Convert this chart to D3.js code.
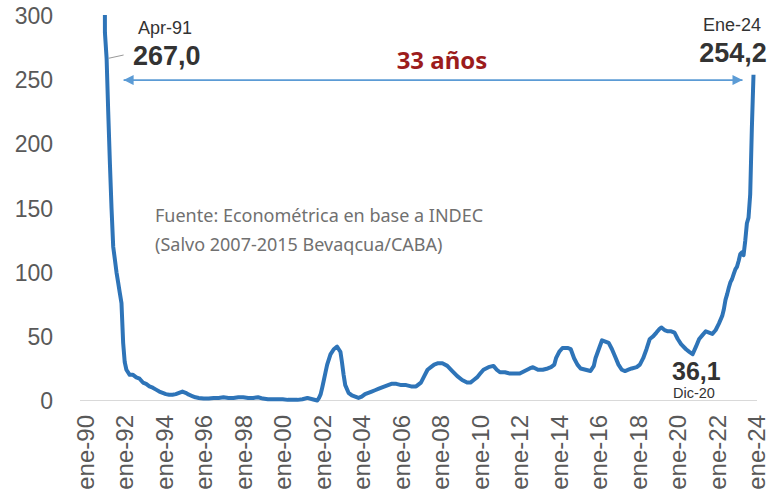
<!DOCTYPE html>
<html lang="es">
<head>
  <meta charset="UTF-8">
  <title>Inflación interanual</title>
  <script src="https://d3js.org/d3.v7.min.js"></script>
  <style>
    body { margin: 0; background: #fff; }
    svg { display: block; }
    .tick-label { font-family: "Liberation Sans", Arial, sans-serif; fill: #595959; }
    .note { font-family: "Noto Sans", "Open Sans", sans-serif; }
    .note-num { font-family: "Liberation Sans", Arial, sans-serif; }
  </style>
</head>
<body>
<svg width="773" height="502"></svg>
<script>
// inflación interanual (%), mensual; valores por encima de 300 quedan recortados
const fechas = [
  "1991-02","1991-03","1991-04","1991-05","1991-06","1991-07","1991-08","1991-09","1991-10","1991-11","1991-12",
  "1992-01","1992-02","1992-03","1992-04","1992-06","1992-08","1992-10","1992-12",
  "1993-02","1993-04","1993-06","1993-08","1993-10","1993-12",
  "1994-02","1994-04","1994-06","1994-08","1994-10","1994-12",
  "1995-02","1995-04","1995-06","1995-08","1995-10","1995-12",
  "1996-03","1996-06","1996-09","1996-12","1997-03","1997-06","1997-09","1997-12",
  "1998-03","1998-06","1998-09","1998-12","1999-03","1999-06","1999-09","1999-12",
  "2000-03","2000-06","2000-09","2000-12","2001-03","2001-06","2001-09","2001-12",
  "2002-01","2002-02","2002-03","2002-04","2002-05","2002-06","2002-08","2002-10","2002-12",
  "2003-01","2003-02","2003-03","2003-04","2003-05","2003-07","2003-09","2003-11",
  "2004-01","2004-03","2004-05","2004-07","2004-09","2004-11",
  "2005-01","2005-03","2005-05","2005-07","2005-09","2005-12",
  "2006-03","2006-06","2006-09","2006-12",
  "2007-03","2007-05","2007-07","2007-09","2007-11",
  "2008-01","2008-04","2008-07","2008-10",
  "2009-01","2009-04","2009-07","2009-09","2009-11",
  "2010-01","2010-03","2010-05","2010-08","2010-11",
  "2011-01","2011-03","2011-06","2011-09","2011-12",
  "2012-03","2012-06","2012-09","2012-11",
  "2013-02","2013-05","2013-08","2013-10","2013-12",
  "2014-01","2014-03","2014-05","2014-08","2014-10","2014-12",
  "2015-02","2015-04","2015-07","2015-10","2015-12",
  "2016-01","2016-03","2016-05","2016-07","2016-09","2016-11",
  "2017-01","2017-03","2017-05","2017-07","2017-09","2017-11",
  "2018-02","2018-04","2018-06","2018-08","2018-10","2018-12",
  "2019-02","2019-04","2019-05","2019-07","2019-09","2019-11",
  "2020-01","2020-03","2020-05","2020-08","2020-10","2020-12",
  "2021-02","2021-04","2021-06","2021-08","2021-10","2021-12",
  "2022-02","2022-04","2022-06","2022-07","2022-08","2022-09","2022-10","2022-11","2022-12",
  "2023-01","2023-02","2023-03","2023-04","2023-05","2023-06","2023-07","2023-08","2023-09","2023-10","2023-11","2023-12",
  "2024-01"
];
const valores = [
  900, 287, 267, 225, 185, 150, 120, 110, 100, 92, 84,
  76, 45, 30, 24, 20, 20, 18, 17,
  14, 13, 11, 10, 8.5, 7,
  6, 5, 4.5, 4.5, 5, 6,
  7, 6, 4.5, 3.5, 2.5, 2,
  1.5, 1.5, 2, 2, 2.5, 2, 2, 2.5,
  2.5, 2, 2, 2.5, 1.5, 1, 1, 1,
  1, 0.5, 0.5, 0.5, 1, 2, 1, 0,
  2, 5, 10, 16, 22, 28, 36, 40, 42,
  40, 38, 30, 20, 12, 6, 4, 3,
  2, 3, 5, 6, 7, 8,
  9, 10, 11, 12, 13, 13,
  12, 12, 11, 11,
  14, 19, 24, 26, 28,
  29, 29, 27, 23,
  19, 16, 14, 14, 16,
  18, 21, 24, 26, 27,
  24, 22, 22, 21, 21,
  21, 23, 25, 26,
  24, 24, 25, 26, 28,
  33, 38, 41, 41, 40, 33,
  28, 25, 24, 23, 27,
  33, 40, 47, 46, 45, 40,
  34, 28, 24, 23, 24, 25,
  26, 28, 33, 40, 48, 50,
  53, 56, 57, 55, 54, 54,
  53, 48, 44, 40, 38, 36.1,
  42, 48, 51, 54, 53, 52,
  55, 60, 66, 71, 78.5, 83, 88, 92.4, 94.8,
  98.8, 102.5, 104.3, 108.8, 114.2, 115.6, 113.4, 124.4, 138.3, 142.7, 160.9, 211.4,
  254.2
];
const yTicks = [0, 50, 100, 150, 200, 250, 300];
const fuente = ["Fuente: Econométrica en base a INDEC", "(Salvo 2007-2015 Bevaqcua/CABA)"];

const parse = d3.timeParse("%Y-%m");
const serie = fechas.map((f, i) => ({ fecha: parse(f), valor: valores[i] }));

const svg = d3.select("svg");
const plotLeft = 80, plotRight = 757, plotTop = 16, plotBottom = 400.5;

const x = d3.scaleTime()
  .domain([parse("1990-01"), parse("2024-01")])
  .range([82, 753.5]);
const y = d3.scaleLinear().domain([0, 300]).range([plotBottom, plotTop]);

const defs = svg.append("defs");
defs.append("clipPath").attr("id", "plot")
  .append("rect").attr("x", plotLeft).attr("y", plotTop - 1)
  .attr("width", plotRight - plotLeft).attr("height", plotBottom - plotTop + 6);

defs.append("marker")
  .attr("id", "head")
  .attr("viewBox", "0 0 10 10").attr("refX", 10).attr("refY", 5)
  .attr("markerWidth", 14).attr("markerHeight", 10).attr("markerUnits", "userSpaceOnUse")
  .attr("orient", "auto-start-reverse")
  .append("path").attr("d", "M0,0 L10,5 L0,10 z").attr("fill", "#5b9bd5");

// base line
svg.append("line")
  .attr("x1", plotLeft).attr("x2", plotRight).attr("y1", y(0)).attr("y2", y(0))
  .attr("stroke", "#d9d9d9").attr("stroke-width", 1.2);

// y labels
svg.append("g").selectAll("text")
  .data(yTicks)
  .join("text")
  .attr("class", "tick-label")
  .attr("x", 53).attr("y", d => y(d)).attr("dy", "0.36em")
  .attr("text-anchor", "end")
  .style("font-size", "23px")
  .text(d => d);

// x labels, cada 2 años
const xTicks = d3.timeYear.every(2).range(parse("1990-01"), parse("2024-02"));
svg.append("g").selectAll("text")
  .data(xTicks)
  .join("text")
  .attr("class", "tick-label")
  .attr("transform", d => `translate(${x(d) + 3},415) rotate(-90)`)
  .attr("dy", "0.36em")
  .attr("text-anchor", "end")
  .style("font-size", "24px")
  .text(d => "ene-" + d3.timeFormat("%y")(d));

// arrow 33 años
svg.append("line")
  .attr("x1", x(parse("1991-04")) + 17).attr("x2", x(parse("2024-01")) - 11)
  .attr("y1", y(250)).attr("y2", y(250))
  .attr("stroke", "#5b9bd5").attr("stroke-width", 1.6)
  .attr("marker-start", "url(#head)").attr("marker-end", "url(#head)");

// series
const line = d3.line().x(d => x(d.fecha)).y(d => y(d.valor));
svg.append("path")
  .datum(serie)
  .attr("clip-path", "url(#plot)")
  .attr("d", line)
  .attr("fill", "none")
  .attr("stroke", "#2e74b8")
  .attr("stroke-width", 4)
  .attr("stroke-linejoin", "round");

// leader line Apr-91
svg.append("line")
  .attr("x1", x(parse("1991-04")) + 2).attr("x2", x(parse("1991-04")) + 17)
  .attr("y1", y(267)).attr("y2", y(268) - 2)
  .attr("stroke", "#999").attr("stroke-width", 1);

const notes = svg.append("g");
function note(txt, px, py, size, opts = {}) {
  notes.append("text")
    .attr("class", opts.cls || "note-num")
    .attr("x", px).attr("y", py)
    .attr("text-anchor", opts.anchor || "start")
    .style("font-size", size + "px")
    .style("font-weight", opts.bold ? "bold" : "normal")
    .attr("fill", opts.color || "#333")
    .text(txt);
}
note("Apr-91", 165, 34, 18, { anchor: "middle" });
note("267,0", 133, 65, 27, { bold: true });
note("33 años", 442, 69, 24, { anchor: "middle", bold: true, color: "#9c1c1c", cls: "note" });
note("Ene-24", 732, 31, 18, { anchor: "middle" });
note("254,2", 733, 62, 27, { anchor: "middle", bold: true });
note("36,1", 672, 380, 25, { bold: true });
note("Dic-20", 673, 398, 14.5);
fuente.forEach((t, i) => note(t, 155, 222 + i * 29, 18, { color: "#707070", cls: "note" }));
</script>
</body>
</html>
